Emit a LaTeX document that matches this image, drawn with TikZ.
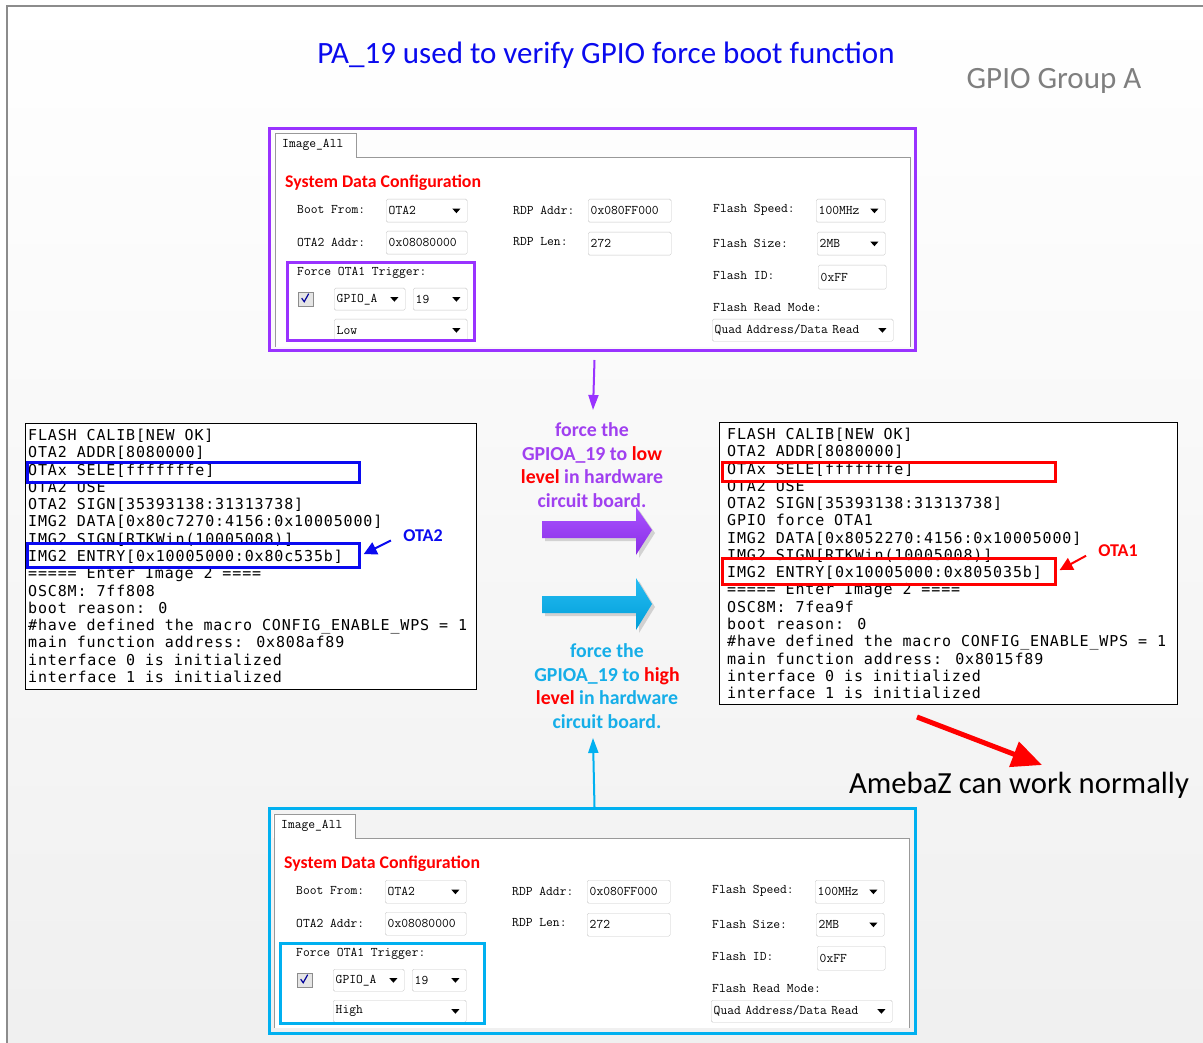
\documentclass[tikz,border=0pt]{standalone}
\usepackage{fontspec}
\setmainfont{Carlito}
\newfontfamily\confont[LetterSpace=5.7]{DejaVu Sans Mono}
\newcommand{\uifont}{\ttfamily}
\usetikzlibrary{arrows.meta,calc}
\definecolor{pur}{HTML}{9933FF}
\definecolor{purtext}{HTML}{A040F0}
\definecolor{cy}{HTML}{00B0F0}
\definecolor{cytext}{HTML}{16AEE8}
\definecolor{titleblue}{HTML}{0A0AEE}
\definecolor{boxblue}{HTML}{0A0AF0}
\definecolor{grouptxt}{HTML}{7F7F7F}
\tikzset{
  lab/.style={font=\uifont\fontsize{13.2}{14}\selectfont, inner sep=0pt, anchor=west},
  fld/.style={draw=black!22, fill=white, rounded corners=1.5pt, font=\uifont\fontsize{13.2}{14}\selectfont,
    inner xsep=2.5pt, inner ysep=0pt, minimum height=23pt, anchor=north west, align=left, text width=#1},
  sdc/.style={font=\bfseries\fontsize{17.8}{19}\selectfont, text=red, inner sep=0pt, anchor=west},
  con/.style={font=\confont\fontsize{15}{17}\selectfont, inner sep=0pt, anchor=base west},
  conbox/.style={draw=black, line width=1.3pt, fill=white, anchor=north west, inner sep=0pt},
  hl/.style={draw=#1, line width=3pt, anchor=north west, inner sep=0pt},
  frame/.style={draw=#1, line width=3pt, anchor=north west, inner sep=0pt},
  bigtxt/.style={font=\bfseries\fontsize{19.8}{23.7}\selectfont, align=center},
  callout/.style={font=\bfseries\fontsize{18}{20}\selectfont, text=#1},
  calloutarrow/.style={draw=#1, line width=2pt, -{Triangle[width=13pt,length=13pt]}},
}
\newcommand{\ddarrow}[1]{\fill[black] ([xshift=-15pt,yshift=2pt]#1.east) -- ++(8pt,0pt) -- ++(-4pt,-4.5pt) -- cycle;}
\newcommand{\cfgpanel}[1]{%
  \fill[white] (275,157) rectangle (910,347);
  \fill[white] (274,133) rectangle (356,157);
  \draw[black!40] (275,347) -- (275,133) -- (356,133) -- (356,157) -- (910,157) -- (910,347);
  \node[lab] (tab) at (282,145) {Image\_All};
  \node[sdc] (sdc) at (285,183) {System Data Configuration};
  \node[lab] (bootl) at (297,210) {Boot From:};
  \node[lab] (ota2l) at (297,242) {OTA2 Addr:};
  \node[lab] (rdpal) at (513,210) {RDP Addr:};
  \node[lab] (rdpll) at (513,242) {RDP Len:};
  \node[lab] (fspl) at (713,210) {Flash Speed:};
  \node[lab] (fszl) at (713,243) {Flash Size:};
  \node[lab] (fidl) at (713,276) {Flash ID:};
  \node[lab] (frml) at (713,308) {Flash Read Mode:};
  \node[lab] (forcel) at (297,273) {Force OTA1 Trigger:};
  \node[fld=76pt] (bootf) at (386,199) {OTA2};
  \node[fld=76pt] (ota2f) at (386,231) {0x08080000};
  \node[fld=78pt] (rdpaf) at (588,199) {0x080FF000};
  \node[fld=78pt] (rdplf) at (588,232) {272};
  \node[fld=64pt] (fspf) at (816,199) {100MHz};
  \node[fld=63pt] (fszf) at (817,232) {2MB};
  \node[fld=63pt, minimum height=24pt] (fidf) at (818,265) {0xFF};
  \node[fld=176pt, minimum height=22pt] (frmf) at (712,319) {Quad Address/Data Read};
  \node[fld=66pt, minimum height=22pt] (gpiof) at (334,288) {GPIO\_A};
  \node[fld=49pt, minimum height=22pt] (pinf) at (413,288) {19};
  \node[fld=128pt, minimum height=22pt] (lvlf) at (334,319) {#1};
  \ddarrow{bootf}\ddarrow{fspf}\ddarrow{fszf}\ddarrow{frmf}\ddarrow{gpiof}\ddarrow{pinf}\ddarrow{lvlf}
  \node[draw=black!45, fill=black!10, minimum width=15pt, minimum height=14pt, inner sep=0pt, anchor=north west] (chk) at (298,292) {};
  \draw[blue!60!black, line width=1.2pt] ([xshift=-4pt,yshift=1pt]chk.center) -- ++(2.5pt,-3.5pt) -- ++(4.5pt,8pt);
}
\begin{document}
\begin{tikzpicture}[x=1pt,y=-1pt]
\useasboundingbox (0,0) rectangle (1203,1043);
\fill[white] (0,0) rectangle (1203,1043);
\shade[top color=white, bottom color=black!6] (7,6) rectangle (1203,1043);
\draw[black!45, line width=2pt] (7,1043) -- (7,6) -- (1203,6);

% titles
\node[font=\fontsize{31}{33}\selectfont, text=titleblue] (title) at (606,55) {PA\_19 used to verify GPIO force boot function};
\node[font=\fontsize{31}{33}\selectfont, text=grouptxt] (group) at (1054,81) {GPIO Group A};

% top configuration panel
\begin{scope}[name prefix=t-]
  \cfgpanel{Low}
\end{scope}
\node[frame=pur, minimum width=646pt, minimum height=222pt] (toppanel) at (268,127) {};
\node[frame=pur, minimum width=187pt, minimum height=78pt] (topgrp) at (286,261) {};

% bottom configuration panel
\begin{scope}[shift={(-1,681)}, name prefix=b-]
  \cfgpanel{High}
\end{scope}
\node[frame=cy, minimum width=646pt, minimum height=225pt] (botpanel) at (268,807) {};
\node[frame=cy, minimum width=204pt, minimum height=80pt] (botgrp) at (279,942) {};

% left console
\node[conbox, minimum width=451pt, minimum height=266pt] (lcon) at (25,423) {};
\foreach \t [count=\i] in {
  {FLASH CALIB[NEW OK]},
  {OTA2 ADDR[8080000]},
  {OTAx SELE[fffffffe]},
  {OTA2 USE},
  {OTA2 SIGN[35393138:31313738]},
  {IMG2 DATA[0x80c7270:4156:0x10005000]},
  {IMG2 SIGN[RTKWin(10005008)]},
  {IMG2 ENTRY[0x10005000:0x80c535b]},
  {===== Enter Image 2 ====},
  {OSC8M: 7ff808},
  {boot reason: 0},
  {\#have defined the macro CONFIG\_ENABLE\_WPS = 1},
  {main function address: 0x808af89},
  {interface 0 is initialized},
  {interface 1 is initialized}}
  {\node[con] (L\i) at (28,{440.5+17.28*(\i-1)}) {\t};}
\node[hl=boxblue, minimum width=332pt, minimum height=20pt] (lsel) at (26,461) {};
\node[hl=boxblue, minimum width=332pt, minimum height=24pt] (lentry) at (26,542) {};
\node[callout=boxblue] (ota2) at (423,536) {OTA2};
\draw[calloutarrow=boxblue, shorten <=10pt, shorten >=3pt] (ota2.west) -- (lentry.east);

% right console
\node[conbox, minimum width=458pt, minimum height=282pt] (rcon) at (719,422) {};
\foreach \t [count=\i] in {
  {FLASH CALIB[NEW OK]},
  {OTA2 ADDR[8080000]},
  {OTAx SELE[fffffffe]},
  {OTA2 USE},
  {OTA2 SIGN[35393138:31313738]},
  {GPIO force OTA1},
  {IMG2 DATA[0x8052270:4156:0x10005000]},
  {IMG2 SIGN[RTKWin(10005008)]},
  {IMG2 ENTRY[0x10005000:0x805035b]},
  {===== Enter Image 2 ====},
  {OSC8M: 7fea9f},
  {boot reason: 0},
  {\#have defined the macro CONFIG\_ENABLE\_WPS = 1},
  {main function address: 0x8015f89},
  {interface 0 is initialized},
  {interface 1 is initialized}}
  {\node[con] (R\i) at (727,{439.5+17.27*(\i-1)}) {\t};}
\node[hl=red, minimum width=333pt, minimum height=19pt] (rsel) at (721,461) {};
\node[hl=red, minimum width=333pt, minimum height=26pt] (rentry) at (721,557) {};
\node[callout=red] (ota1) at (1118,551) {OTA1};
\draw[calloutarrow=red, shorten <=10pt, shorten >=3pt] (ota1.west) -- (rentry.east);

% middle texts
\node[bigtxt, text=purtext] (ptext) at (592,465) {force the\\GPIOA\_19 to {\color{red}low}\\{\color{red}level} in hardware\\circuit board.};
\node[bigtxt, text=cytext] (ctext) at (607,686) {force the\\GPIOA\_19 to {\color{red}high}\\{\color{red}level} in hardware\\circuit board.};

% vertical thin arrows
\coordinate (purtip) at (593,410);
\coordinate (cytip) at (593,738);
\draw[pur, line width=2pt, -{Triangle[width=10pt,length=15pt]}] ([xshift=2pt,yshift=-8pt]toppanel.south) -- (purtip);
\draw[cy, line width=2pt, -{Triangle[width=10pt,length=15pt]}] ([xshift=2pt]botpanel.north) -- (cytip);

% block arrows
\fill[black, opacity=0.15] (545,524) -- (639,524) -- (639,510) -- (655,533) -- (639,558) -- (639,541) -- (545,541) -- cycle;
\shade[top color=pur!85, bottom color=pur!90!black] (542,521) -- (636,521) -- (636,507) -- (652,530) -- (636,555) -- (636,538) -- (542,538) -- cycle;
\fill[black, opacity=0.15] (545,599) -- (639,599) -- (639,581) -- (655,607) -- (639,633) -- (639,616) -- (545,616) -- cycle;
\shade[top color=cy!85, bottom color=cy!90!black] (542,596) -- (636,596) -- (636,578) -- (652,604) -- (636,630) -- (636,613) -- (542,613) -- cycle;

% result
\node[font=\fontsize{30.7}{32}\selectfont] (ameba) at (1019,785) {AmebaZ can work normally};
\coordinate (redstart) at (917,717);
\coordinate (redend) at (1042,765);
\draw[red, line width=5pt, -{Triangle[width=26pt,length=30pt]}] (redstart) -- (redend);
\end{tikzpicture}
\end{document}
